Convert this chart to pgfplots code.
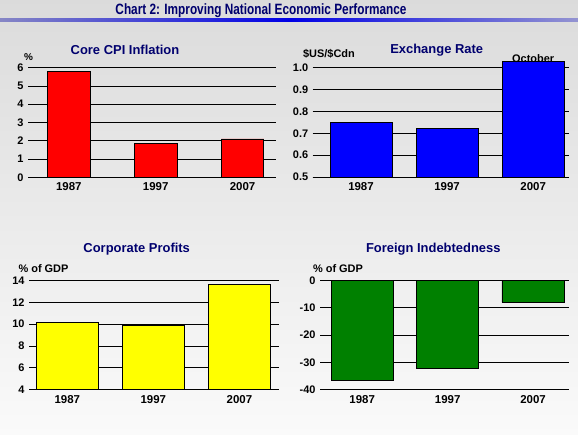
\documentclass[border=0pt]{standalone}
\usepackage{fontspec}
\setmainfont{Liberation Sans}
\usepackage{graphicx}
\usepackage{pgfplots}
\pgfplotsset{compat=1.18}
\definecolor{navy}{RGB}{0,0,110}
\definecolor{barred}{RGB}{255,0,0}
\definecolor{barblue}{RGB}{0,0,255}
\definecolor{baryellow}{RGB}{255,255,0}
\definecolor{bargreen}{RGB}{0,128,0}
\pgfplotsset{
  panel/.style={
    scale only axis,
    anchor=south west,
    ybar,
    clip mode=individual,
    axis x line*=bottom,
    axis y line*=left,
    y axis line style={draw=none},
    x axis line style={black, line width=0.9pt, -},
    ymajorgrids,
    grid style={black, line width=0.8pt},
    major tick length=0pt,
    xtick={0,1,2},
    xticklabels={1987,1997,2007},
    /pgf/number format/assume math mode=true,
    tick label style={font=\fontsize{11}{13}\selectfont\bfseries, black},
    xticklabel style={font=\fontsize{11.5}{13}\selectfont\bfseries, yshift=-2pt},
    yticklabel style={xshift=-1pt},
  },
  bars/.style={draw=black, line width=0.8pt, fill=#1},
}
\begin{document}
\begin{tikzpicture}
\shade[top color=gray!28, bottom color=white!96!gray] (0,0) rectangle (578bp,434bp);
\shade[left color=blue!35!gray!70, right color=blue!40!gray!60, middle color=blue!90!black] (0,413.3bp) rectangle (578bp,415.8bp);
\node[navy] at (261bp,424bp) {\scalebox{0.79}[1]{\fontsize{15}{17}\selectfont\bfseries Chart 2: Improving National Economic Performance}};

% Panel 1: Core CPI Inflation
\begin{axis}[panel, at={(28bp,257bp)}, width=248bp, height=109.7bp,
  xmin=-0.469, xmax=2.385, ymin=0, ymax=6, ytick={0,1,...,6}, bar width=0.49]
\addplot[bars=barred] coordinates {(0,5.8) (1,1.83) (2,2.1)};
\end{axis}
\node[navy] at (125bp,384bp) {\fontsize{13}{15}\selectfont\bfseries Core CPI Inflation};
\node at (28.5bp,377bp) {\fontsize{10}{12}\selectfont\bfseries \%};

% Panel 2: Exchange Rate
\begin{axis}[panel, at={(312.7bp,257.3bp)}, width=256.3bp, height=120.4bp,
  xmin=-0.561, xmax=2.416, ymin=0.5, ymax=1.05, ytick={0.5,0.6,...,1.0},
  yticklabel style={/pgf/number format/.cd, fixed, fixed zerofill, precision=1},
  bar width=0.72]
\addplot[bars=barblue] coordinates {(0,0.748) (1,0.721) (2,1.027)};
\node[anchor=south, inner sep=0pt, yshift=-1.5pt] at (axis cs:2,1.027) {\fontsize{11}{13}\selectfont\bfseries October};
\end{axis}
\node[navy] at (436.7bp,384bp) {\fontsize{13}{15}\selectfont\bfseries Exchange Rate};
\node at (329bp,380bp) {\fontsize{11}{13}\selectfont\bfseries \$US/\$Cdn};

% Panel 3: Corporate Profits
\begin{axis}[panel, at={(29bp,44.7bp)}, width=250bp, height=109bp,
  xmin=-0.445, xmax=2.46, ymin=4, ymax=14, ytick={4,6,...,14}, bar width=0.727]
\addplot[bars=baryellow] coordinates {(0,10.15) (1,9.87) (2,13.63)};
\end{axis}
\node[navy] at (136.7bp,185bp) {\fontsize{13}{15}\selectfont\bfseries Corporate Profits};
\node at (43.5bp,166bp) {\fontsize{11}{13}\selectfont\bfseries \% of GDP};

% Panel 4: Foreign Indebtedness
\begin{axis}[panel, at={(320bp,44.7bp)}, width=249bp, height=109bp,
  xmin=-0.494, xmax=2.42, ymin=-40, ymax=0, ytick={-40,-30,...,0}, bar width=0.73]
\addplot[bars=bargreen] coordinates {(0,-36.7) (1,-32.2) (2,-8.0)};
\end{axis}
\node[navy] at (433.3bp,185bp) {\fontsize{13}{15}\selectfont\bfseries Foreign Indebtedness};
\node at (338bp,166bp) {\fontsize{11}{13}\selectfont\bfseries \% of GDP};
\end{tikzpicture}
\end{document}
